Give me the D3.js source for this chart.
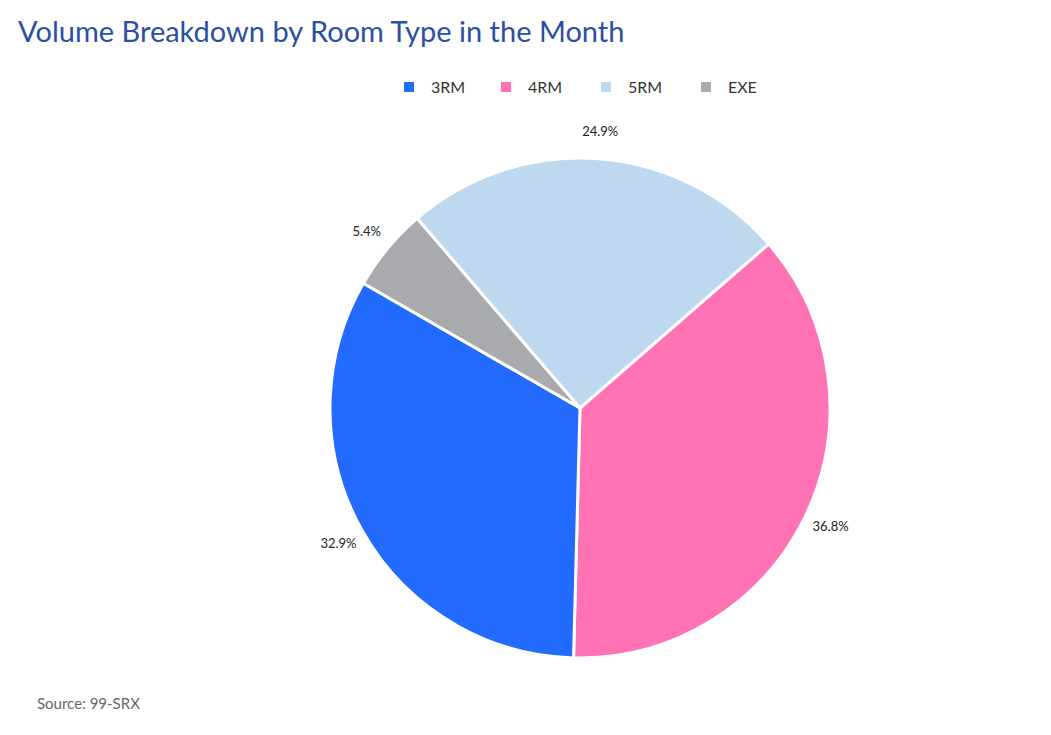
<!DOCTYPE html>
<html><head><meta charset="utf-8">
<script src="https://cdn.jsdelivr.net/npm/d3@7"></script>
<style>body{margin:0;background:#fff;font-family:Lato,"Open Sans",sans-serif}</style>
</head><body><svg id="c" width="1051" height="735"></svg>
<script>
const categories=["4RM","3RM","EXE","5RM"];
const values=[36.8,32.9,5.4,24.9];
const legendOrder=["3RM","4RM","5RM","EXE"];
const colors={"3RM":"#236BFE","4RM":"#FF73B5","5RM":"#BED8F0","EXE":"#A9AAAD"};
const svg=d3.select("#c");
svg.append("text").attr("x",18).attr("y",42).attr("fill","#2B4FA2").attr("font-size",29).text("Volume Breakdown by Room Type in the Month");
svg.append("text").attr("x",37).attr("y",709).attr("fill","#666").attr("font-size",15).text("Source: 99-SRX");
const lg=svg.append("g");
const lx=[404,501,601,701];
legendOrder.forEach((k,i)=>{const g=lg.append("g").attr("transform",`translate(${lx[i]},87)`);
g.append("rect").attr("x",0).attr("y",-5).attr("width",10).attr("height",10).attr("fill",colors[k]);
g.append("text").attr("x",27).attr("y",6).attr("font-size",16).attr("fill","#333").text(k);});
const cx=580,cy=408,r=250;
const start=49*Math.PI/180;
const pie=d3.pie().sort(null).startAngle(start).endAngle(start+2*Math.PI);
const data=pie(values);
const arc=d3.arc().innerRadius(0).outerRadius(r);
const la=d3.arc().innerRadius(277).outerRadius(277);
const g=svg.append("g").attr("transform",`translate(${cx},${cy})`);
g.selectAll("path").data(data).join("path").attr("d",arc).attr("fill",(d,i)=>colors[categories[i]]).attr("stroke","#fff").attr("stroke-width",3);
g.selectAll("text").data(data).join("text").attr("transform",d=>`translate(${la.centroid(d)})`).attr("text-anchor","middle").attr("dy","0.35em").attr("font-size",13).attr("fill","#222").text(d=>d.value.toFixed(1)+"%");
</script></body></html>
